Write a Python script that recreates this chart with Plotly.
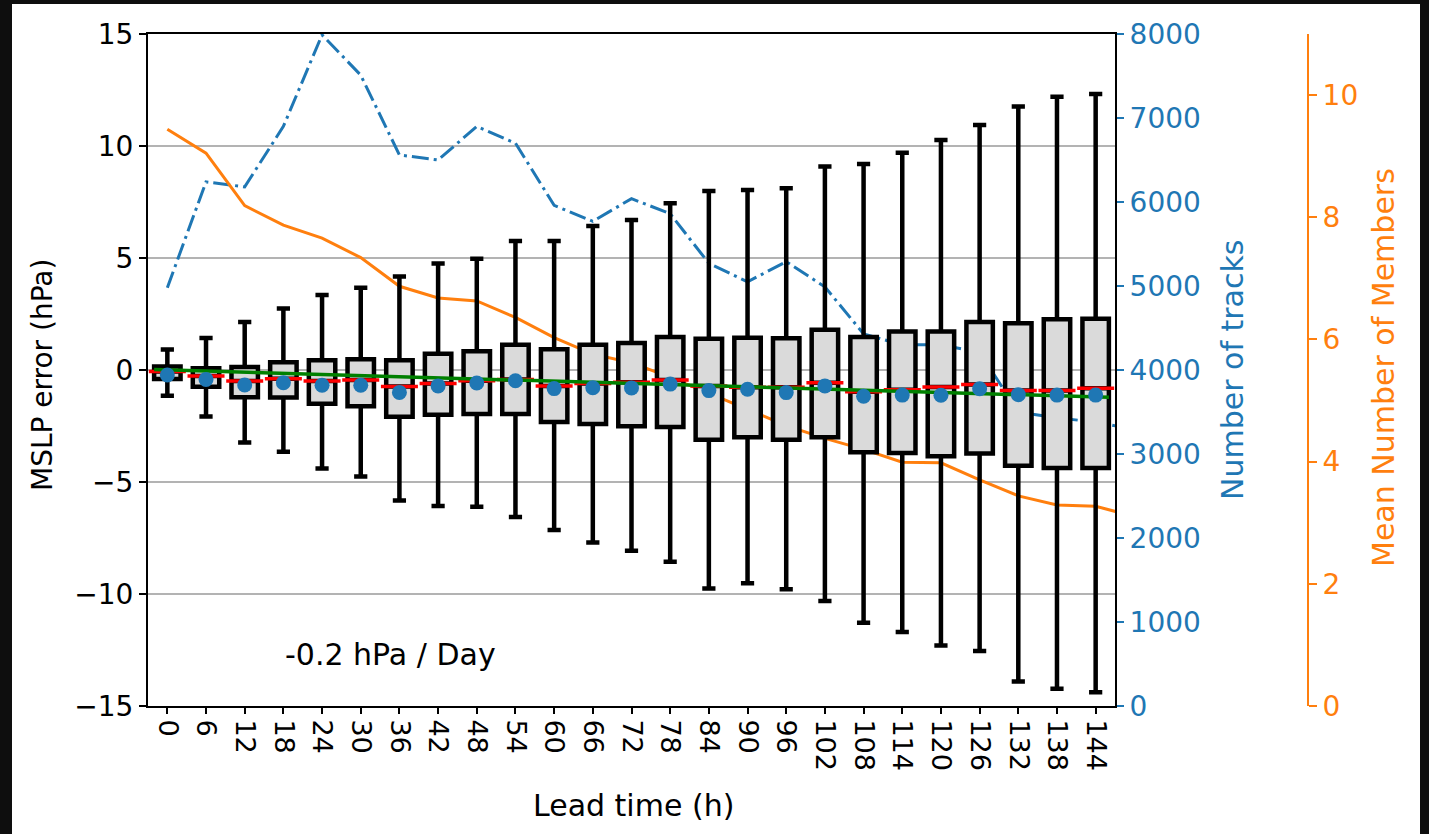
import plotly.graph_objects as go

# ---- data -----------------------------------------------------------------
lead_hours = [0, 6, 12, 18, 24, 30, 36, 42, 48, 54, 60, 66, 72,
              78, 84, 90, 96, 102, 108, 114, 120, 126, 132, 138, 144]

# MSLP error distribution per lead time (hPa)
whisker_high = [0.92, 1.43, 2.14, 2.74, 3.35, 3.67, 4.17, 4.75, 4.97, 5.76, 5.76, 6.43, 6.70,
                7.44, 7.99, 8.04, 8.11, 9.08, 9.20, 9.70, 10.27, 10.94, 11.76, 12.20, 12.32]
q3 = [0.16, 0.08, 0.13, 0.35, 0.43, 0.48, 0.43, 0.72, 0.84, 1.13, 0.93, 1.13, 1.20,
      1.47, 1.39, 1.44, 1.42, 1.80, 1.47, 1.72, 1.72, 2.14, 2.09, 2.27, 2.29]
median = [-0.07, -0.27, -0.49, -0.39, -0.49, -0.45, -0.74, -0.60, -0.48, -0.42, -0.71, -0.60, -0.55,
          -0.45, -0.71, -0.77, -0.77, -0.57, -0.97, -0.88, -0.76, -0.65, -0.92, -0.92, -0.82]
q1 = [-0.40, -0.75, -1.22, -1.23, -1.51, -1.62, -2.09, -2.00, -1.96, -1.96, -2.32, -2.41, -2.51,
      -2.55, -3.11, -3.00, -3.11, -3.00, -3.67, -3.70, -3.85, -3.73, -4.27, -4.37, -4.37]
whisker_low = [-1.15, -2.08, -3.24, -3.65, -4.40, -4.76, -5.83, -6.07, -6.10, -6.56, -7.14, -7.70, -8.07,
               -8.56, -9.75, -9.52, -9.79, -10.31, -11.28, -11.70, -12.30, -12.54, -13.91, -14.23, -14.39]
mean_error = [-0.22, -0.42, -0.67, -0.57, -0.68, -0.68, -1.00, -0.71, -0.58, -0.48, -0.83, -0.79, -0.80,
              -0.63, -0.92, -0.86, -1.01, -0.71, -1.17, -1.12, -1.13, -0.84, -1.10, -1.12, -1.12]

# track counts and ensemble size (series run one step past the last box)
series_hours = lead_hours + [150]
n_tracks = [4980, 6240, 6180, 6900, 7990, 7510, 6560, 6500, 6900, 6700, 5960, 5770, 6040,
            5860, 5270, 5050, 5290, 4990, 4430, 4300, 4300, 4210, 3500, 3430, 3380, 3290]
mean_members = [9.44, 9.05, 8.19, 7.87, 7.66, 7.34, 6.87, 6.68, 6.63, 6.36, 6.03, 5.76, 5.62,
                5.38, 5.12, 4.86, 4.59, 4.38, 4.20, 3.99, 3.98, 3.70, 3.44, 3.29, 3.27, 3.10]

# linear trend of the MSLP error
trend_slope_per_day = -0.2
trend_intercept = 0.0

# ---- styling / geometry ------------------------------------------------------
BLUE = "#1f77b4"
ORANGE = "#ff7f0e"
FONT = "DejaVu Sans"
TICK_SIZE = 28
XTICK_SIZE = 27
TITLE_SIZE = 30
W, H = 1429, 834
ML, MR, MT, MB = 148, 99, 34, 128
PW, PH = W - ML - MR, H - MT - MB
AXES_RIGHT_PX = 1115
MEMBERS_AXIS_PX = 1308
BOX_WIDTH = 4.1  # hours


def px_x(px):
    return (px - ML) / PW


def px_y(py):
    return (H - MB - py) / PH


x_dom_end = px_x(AXES_RIGHT_PX)
box_px = BOX_WIDTH / 150.0 * (AXES_RIGHT_PX - ML)

fig = go.Figure()

# secondary series (drawn beneath the boxes)
fig.add_trace(go.Scatter(
    x=series_hours, y=n_tracks, mode="lines", xaxis="x", yaxis="y",
    line=dict(color=BLUE, width=3, dash="17px,5px,3px,5px"),
    hoverinfo="skip"))
fig.add_trace(go.Scatter(
    x=series_hours, y=mean_members, mode="lines", xaxis="x", yaxis="y2",
    line=dict(color=ORANGE, width=3), hoverinfo="skip"))

# box plots of MSLP error
fig.add_trace(go.Box(
    x=lead_hours, q1=q1, median=median, q3=q3,
    lowerfence=whisker_low, upperfence=whisker_high,
    width=BOX_WIDTH, whiskerwidth=0.5, boxpoints=False,
    fillcolor="#dadada", line=dict(color="black", width=4.5),
    xaxis="x", yaxis="y3", hoverinfo="skip"))

# medians
fig.add_trace(go.Scatter(
    x=lead_hours, y=median, mode="markers", xaxis="x", yaxis="y3",
    marker=dict(symbol="line-ew", size=box_px, line=dict(color="red", width=3.5)),
    hoverinfo="skip"))

# trend line across the full span of the boxes
trend_x = [lead_hours[0] - BOX_WIDTH / 2, lead_hours[-1] + BOX_WIDTH / 2]
trend_y = [trend_intercept + trend_slope_per_day * h / 24.0 for h in trend_x]
fig.add_trace(go.Scatter(
    x=trend_x, y=trend_y, mode="lines", xaxis="x", yaxis="y3",
    line=dict(color="green", width=3.5), hoverinfo="skip"))

# means
fig.add_trace(go.Scatter(
    x=lead_hours, y=mean_error, mode="markers", xaxis="x", yaxis="y3",
    marker=dict(color=BLUE, size=15), hoverinfo="skip"))

err_ticks = list(range(-15, 16, 5))
err_text = [("\u2212" + str(-v)) if v < 0 else str(v) for v in err_ticks]

fig.update_layout(
    width=W, height=H,
    margin=dict(l=ML, r=MR, t=MT, b=MB, autoexpand=False),
    paper_bgcolor="#0e0e0e", plot_bgcolor="white",
    showlegend=False, hovermode=False,
    font=dict(family=FONT, size=TICK_SIZE, color="black"),
    xaxis=dict(
        domain=[0, x_dom_end], range=[-3, 147], anchor="y",
        tickmode="array", tickvals=lead_hours, ticktext=[str(h) for h in lead_hours],
        tickangle=90, ticks="outside", ticklen=6, tickwidth=1.5, tickcolor="black",
        showline=True, linecolor="black", linewidth=2, mirror=True,
        showgrid=False, zeroline=False, tickfont=dict(size=XTICK_SIZE, color="black")),
    yaxis=dict(
        range=[0, 8000], side="right", anchor="x",
        tickmode="array", tickvals=list(range(0, 8001, 1000)),
        ticks="outside", ticklen=7, tickwidth=1.5, tickcolor=BLUE,
        showline=True, linecolor="black", linewidth=2,
        showgrid=False, zeroline=False, tickfont=dict(size=TICK_SIZE, color=BLUE)),
    yaxis2=dict(
        range=[0, 11.0], overlaying="y", anchor="free", side="right",
        position=px_x(MEMBERS_AXIS_PX),
        tickmode="array", tickvals=list(range(0, 11, 2)),
        ticks="outside", ticklen=8, tickwidth=1.5, tickcolor=ORANGE,
        showline=True, linecolor=ORANGE, linewidth=2,
        showgrid=False, zeroline=False, tickfont=dict(size=TICK_SIZE, color=ORANGE)),
    yaxis3=dict(
        range=[-15, 15], overlaying="y", side="left", anchor="x",
        tickmode="array", tickvals=err_ticks, ticktext=err_text,
        ticks="outside", ticklen=7, tickwidth=1.5, tickcolor="black",
        showline=True, linecolor="black", linewidth=2,
        showgrid=True, gridcolor="#b3b3b3", gridwidth=1.5,
        zeroline=False, tickfont=dict(size=TICK_SIZE, color="black")),
    shapes=[dict(
        type="rect", xref="paper", yref="paper", layer="below",
        x0=px_x(12), x1=px_x(1420), y0=px_y(H), y1=px_y(4),
        fillcolor="white", line=dict(width=0))],
)

# axis titles
titles = [
    ("MSLP error (hPa)", 42, 375, -90, "black", 28),
    ("Number of tracks", 1232, 370, -90, BLUE, TITLE_SIZE),
    ("Mean Number of Members", 1383, 368, -90, ORANGE, TITLE_SIZE),
    ("Lead time (h)", 633, 805, 0, "black", TITLE_SIZE),
]
for text, cx, cy, ang, col, size in titles:
    fig.add_annotation(
        text=text, xref="paper", yref="paper", x=px_x(cx), y=px_y(cy),
        xanchor="center", yanchor="middle", textangle=ang, showarrow=False,
        font=dict(family=FONT, size=size, color=col))

# trend label
fig.add_annotation(
    text=f"{trend_slope_per_day:.1f} hPa / Day", xref="x", yref="y3",
    x=18, y=-12.7, xanchor="left", yanchor="middle", showarrow=False,
    font=dict(family=FONT, size=TITLE_SIZE, color="black"))

fig.write_html("out.html")
